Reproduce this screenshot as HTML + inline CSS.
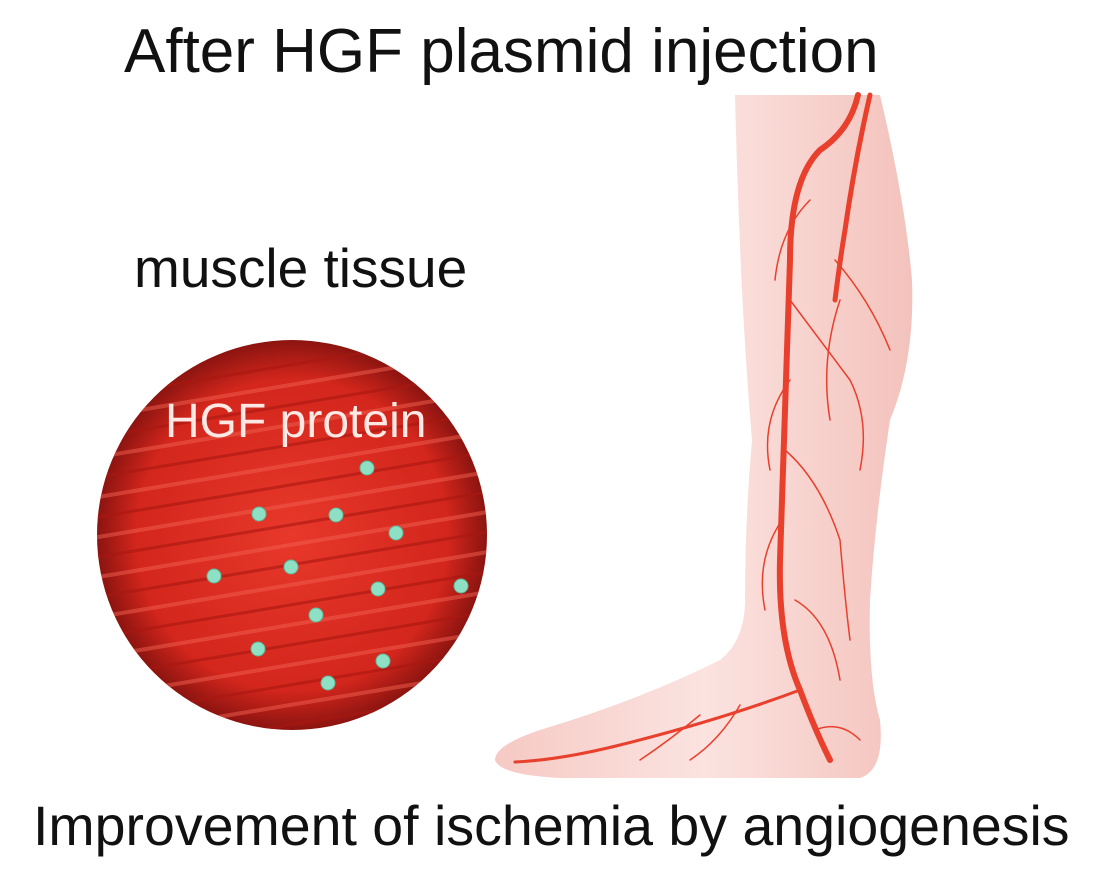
<!DOCTYPE html>
<html><head><meta charset="utf-8"><style>
body{margin:0;background:#fff;width:1099px;height:896px;overflow:hidden;position:relative;font-family:"Liberation Sans",sans-serif}
.t{position:absolute;white-space:nowrap;color:#111}
</style></head><body>
<div class="t" style="left:124px;top:16px;font-size:62px">After HGF plasmid injection</div>
<div class="t" style="left:134px;top:236px;font-size:55px">muscle tissue</div>
<div class="t" style="left:33px;top:794px;font-size:55.5px">Improvement of ischemia by angiogenesis</div>
<svg width="1099" height="896" style="position:absolute;left:0;top:0">
<defs>
<clipPath id="c"><circle cx="292" cy="535" r="195"/></clipPath>
<radialGradient id="g" cx="0.5" cy="0.5" r="0.5"><stop offset="0" stop-color="#e8382b"/><stop offset="0.8" stop-color="#d3261c"/><stop offset="1" stop-color="#8c1410"/></radialGradient>
<linearGradient id="leg" x1="0" x2="1"><stop offset="0" stop-color="#f6c9c4"/><stop offset="0.5" stop-color="#fbe3e0"/><stop offset="1" stop-color="#f4c2bc"/></linearGradient>
</defs>
<circle cx="292" cy="535" r="195" fill="url(#g)"/>
<g clip-path="url(#c)" stroke="#a81810" stroke-width="3" fill="none" opacity="0.6">
<path d="M80 400 L500 330 M80 440 L500 370 M80 480 L500 410 M80 520 L500 450 M80 560 L500 490 M80 600 L500 530 M80 640 L500 570 M80 680 L500 610 M80 720 L500 650 M80 760 L500 690 M80 800 L500 730"/>
</g>
<g clip-path="url(#c)" stroke="#f26050" stroke-width="4" fill="none" opacity="0.5">
<path d="M80 420 L500 350 M80 460 L500 390 M80 500 L500 430 M80 540 L500 470 M80 580 L500 510 M80 620 L500 550 M80 660 L500 590 M80 700 L500 630 M80 740 L500 670"/>
</g>
<text x="165" y="437" font-family="Liberation Sans" font-size="48" fill="#fde8e4">HGF protein</text>
<g fill="#8de0c4" stroke="#5cb89a" stroke-width="1">
<circle cx="367" cy="468" r="7"/><circle cx="259" cy="514" r="7"/><circle cx="336" cy="515" r="7"/><circle cx="396" cy="533" r="7"/><circle cx="214" cy="576" r="7"/><circle cx="291" cy="567" r="7"/><circle cx="378" cy="589" r="7"/><circle cx="461" cy="586" r="7"/><circle cx="316" cy="615" r="7"/><circle cx="258" cy="649" r="7"/><circle cx="383" cy="661" r="7"/><circle cx="328" cy="683" r="7"/>
</g>
<path d="M735 95 L880 95 Q905 200 912 280 Q915 360 890 420 Q875 520 870 600 Q868 680 880 720 Q885 770 860 778 L560 778 Q500 775 495 760 Q495 745 540 730 Q640 700 720 660 Q745 640 745 600 Q745 520 752 440 Q740 300 735 95 Z" fill="url(#leg)"/>
<g stroke="#e8402c" fill="none" stroke-linecap="round">
<path d="M858 95 Q850 130 820 150 Q790 180 790 260 Q785 400 780 560 Q778 640 800 690 Q815 730 830 760" stroke-width="6"/>
<path d="M870 95 Q855 160 845 230 Q840 260 835 300" stroke-width="5"/>
<path d="M800 690 Q720 720 620 745 Q560 760 515 762" stroke-width="3"/>
<g stroke-width="1.5">
<path d="M790 300 Q820 340 850 380 Q870 420 860 470"/>
<path d="M835 260 Q870 300 890 350"/>
<path d="M790 380 Q760 420 770 470"/>
<path d="M785 450 Q820 480 840 540 Q845 600 850 640"/>
<path d="M782 520 Q755 560 765 610"/>
<path d="M795 600 Q830 620 840 680"/>
<path d="M815 730 Q840 720 860 740"/>
<path d="M740 705 Q720 740 690 760"/>
<path d="M700 715 Q670 740 640 760"/>
<path d="M810 200 Q780 230 775 280"/>
<path d="M840 300 Q820 360 830 420"/>
</g></g>
</svg>
</body></html>
